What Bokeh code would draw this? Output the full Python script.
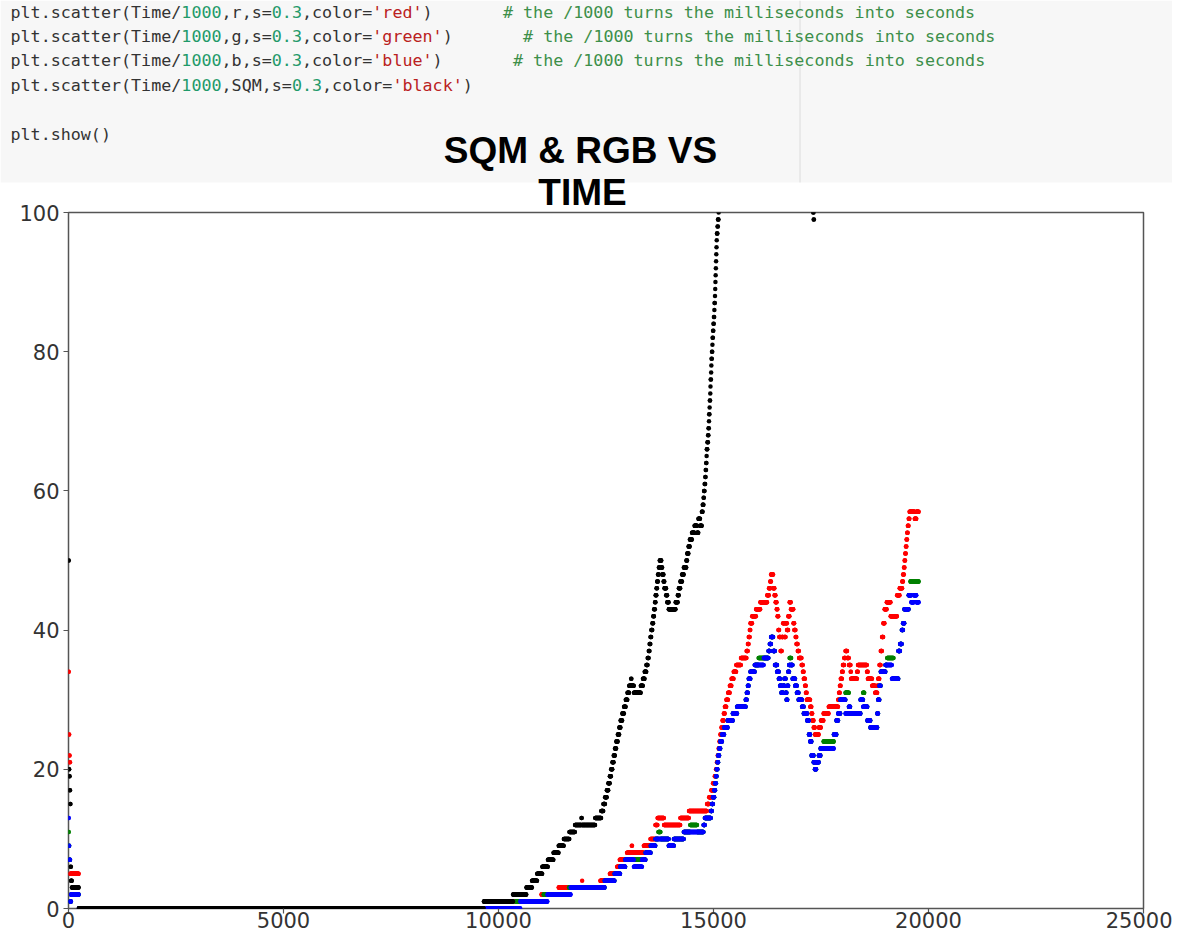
import re
import numpy as np
from bokeh.plotting import figure
from bokeh.models import Range1d, FixedTicker, ColumnDataSource
from bokeh.core.properties import value, field
from bokeh.embed import file_html
from bokeh.resources import INLINE

nan = float("nan")

# ---------------- text content ----------------
CODE_LINES = [
    "plt.scatter(Time/1000,r,s=0.3,color='red')" + " " * 7 + "# the /1000 turns the milliseconds into seconds",
    "plt.scatter(Time/1000,g,s=0.3,color='green')" + " " * 7 + "# the /1000 turns the milliseconds into seconds",
    "plt.scatter(Time/1000,b,s=0.3,color='blue')" + " " * 7 + "# the /1000 turns the milliseconds into seconds",
    "plt.scatter(Time/1000,SQM,s=0.3,color='black')",
    "",
    "plt.show()",
]
TITLE_1 = "SQM & RGB VS"
TITLE_2 = "TIME"

X_TICKS = [0, 5000, 10000, 15000, 20000, 25000]
Y_TICKS = [0, 20, 40, 60, 80, 100]

# ---------------- data: (start time, level) steps ----------------
SAMPLE_STEP = 5
T_END = 19770

SQM_STEPS = [
    (0, 50), (10, 20), (20, 19), (30, 17), (40, 15), (50, 6), (60, 4), (80, 3), (240, 0),
    (9660, 1), (10340, 2), (10650, 3), (10780, 4), (10900, 5), (11020, 6), (11150, 7), (11280, 8),
    (11400, 9), (11520, 10), (11650, 11), (11780, 12), (11930, 13), (11940, 12), (12250, 13),
    (12390, 14), (12440, 15), (12480, 16), (12520, 17), (12555, 18), (12590, 19), (12620, 20),
    (12650, 21), (12680, 22), (12710, 23), (12740, 24), (12775, 25), (12810, 26), (12840, 27),
    (12880, 28), (12920, 29), (12960, 30), (13000, 31), (13040, 32), (13085, 33), (13095, 32),
    (13150, 31), (13310, 32), (13360, 33), (13400, 34), (13440, 35), (13470, 36), (13495, 37),
    (13515, 38), (13535, 39), (13555, 40), (13580, 41), (13600, 42), (13620, 43), (13640, 44),
    (13655, 45), (13675, 46), (13690, 47), (13710, 48), (13730, 49), (13750, 50), (13790, 49),
    (13810, 48), (13840, 47), (13860, 46), (13900, 45), (13925, 44), (13960, 43), (14120, 44),
    (14170, 45), (14195, 46), (14230, 47), (14270, 48), (14310, 49), (14370, 50), (14390, 51),
    (14420, 52), (14450, 53), (14500, 54), (14560, 55), (14620, 54), (14650, 56), (14690, 55),
    (14730, 57), (14748, 58), (14767, 59), (14780, 60), (14793, 61), (14806, 62), (14816, 63),
    (14826, 64), (14836, 65), (14845, 66), (14858, 67), (14871, 68), (14884, 69), (14892, 70),
    (14900, 71), (14907, 72), (14915, 73), (14922, 74), (14928, 75), (14935, 76), (14941, 77),
    (14948, 78), (14954, 79), (14961, 80), (14971, 81), (14980, 82), (14990, 83), (15000, 84),
    (15008, 85), (15016, 86), (15023, 87), (15031, 88), (15039, 89), (15044, 90), (15049, 91),
    (15054, 92), (15059, 93), (15064, 94), (15068, 95), (15073, 96), (15078, 97), (15091, 98),
    (15103, 99), (15116, 100), (15125, nan), (17320, 100), (17330, 99), (17340, nan),
]

RED_STEPS = [
    (0, 34), (10, 25), (20, 22), (30, 21), (40, 5), (240, 0),
    (10400, 1), (11000, 2), (11400, 3), (11945, 4), (11950, 3), (12370, 4), (12590, 5), (12760, 6),
    (12820, 7), (12990, 8), (13100, 9), (13110, 8), (13380, 9), (13535, 10), (13650, 12), (13700, 13),
    (13850, 12), (14230, 13), (14430, 14), (14850, 15), (14900, 16), (14950, 17), (14990, 18),
    (15030, 19), (15060, 20), (15080, 21), (15100, 22), (15120, 23), (15140, 24), (15160, 25),
    (15185, 26), (15210, 27), (15240, 28), (15265, 29), (15300, 30), (15340, 31), (15380, 32),
    (15420, 33), (15470, 34), (15530, 35), (15640, 36), (15770, 37), (15800, 38), (15820, 39),
    (15845, 40), (15860, 41), (15900, 42), (15990, 43), (16090, 44), (16250, 45), (16290, 46),
    (16320, 47), (16340, 48), (16390, 46), (16420, 45), (16445, 44), (16470, 43), (16490, 42),
    (16510, 40), (16530, 39), (16560, 37), (16590, 39), (16620, 41), (16650, 39), (16680, 41),
    (16710, 40), (16740, 42), (16770, 44), (16800, 43), (16860, 41), (16880, 40), (16910, 39),
    (16930, 38), (16960, 37), (16990, 36), (17050, 35), (17080, 34), (17100, 33), (17130, 32),
    (17150, 31), (17170, 30), (17250, 29), (17280, 28), (17300, 27), (17330, 26), (17360, 25),
    (17450, 26), (17500, 27), (17560, 28), (17680, 29), (17900, 30), (17920, 31), (17940, 32),
    (17960, 33), (17990, 34), (18010, 35), (18040, 36), (18070, 37), (18110, 36), (18150, 35),
    (18186, 34), (18200, 33), (18340, 34), (18360, 35), (18570, 34), (18590, 33), (18690, 32),
    (18760, 31), (18810, 32), (18830, 33), (18860, 35), (18890, 37), (18920, 39), (18950, 41),
    (18980, 43), (19030, 44), (19120, 42), (19270, 45), (19330, 46), (19390, 47), (19410, 48),
    (19430, 49), (19445, 50), (19460, 51), (19475, 52), (19490, 53), (19505, 54), (19520, 55),
    (19540, 56), (19560, 57), (19680, 56), (19720, 57),
]

BLUE_STEPS = [
    (0, 13), (10, 9), (20, 7), (40, 1), (60, 2), (240, 0),
    (10510, 1), (11140, 2), (11680, 3), (12470, 4), (12700, 5), (12830, 6), (12950, 7), (13150, 6),
    (13340, 7), (13420, 8), (13540, 9), (13650, 10), (13960, 9), (14080, 10), (14310, 11),
    (14770, 12), (14800, 13), (14940, 14), (14965, 15), (14990, 16), (15020, 17), (15040, 18),
    (15060, 19), (15075, 20), (15095, 21), (15110, 22), (15135, 23), (15160, 24), (15200, 25),
    (15250, 26), (15330, 27), (15450, 28), (15550, 29), (15750, 30), (15775, 31), (15800, 32),
    (15820, 33), (15860, 34), (15960, 35), (16170, 36), (16280, 37), (16310, 38), (16340, 39),
    (16390, 37), (16430, 35), (16480, 34), (16520, 33), (16550, 32), (16580, 31), (16620, 32),
    (16650, 33), (16680, 31), (16700, 30), (16720, 32), (16740, 34), (16760, 35), (16840, 33),
    (16900, 32), (16940, 31), (16980, 30), (17060, 29), (17100, 28), (17180, 27), (17220, 25),
    (17250, 24), (17280, 22), (17330, 21), (17360, 20), (17390, 21), (17450, 22), (17490, 23),
    (17800, 25), (17860, 27), (17900, 28), (17950, 30), (18070, 28), (18150, 29), (18180, 28),
    (18420, 30), (18480, 29), (18580, 27), (18650, 26), (18810, 28), (18830, 30), (18860, 32),
    (18890, 34), (19000, 35), (19150, 33), (19300, 37), (19340, 38), (19380, 40), (19410, 41),
    (19440, 43), (19540, 45), (19600, 44), (19660, 45), (19720, 44),
]

GREEN_STEPS = [
    (0, 11), (10, 9), (20, 7), (40, 1), (60, 2), (240, 0),
    (10400, 1), (11050, 2), (11640, 3), (12470, 4), (12700, 5), (12830, 6), (12950, 7), (13420, 8),
    (13540, 9), (13650, 10), (13720, 11), (13770, 10), (13960, 9), (14080, 10), (14310, 11),
    (14460, 12), (14620, 11), (14770, 12), (14800, 13), (14940, 14), (14965, 15), (14990, 16),
    (15020, 17), (15040, 18), (15060, 19), (15075, 20), (15095, 21), (15110, 22), (15135, 23),
    (15160, 24), (15200, 25), (15250, 26), (15330, 27), (15450, 28), (15550, 29), (15750, 30),
    (15775, 31), (15800, 32), (15820, 33), (15860, 34), (15960, 35), (16050, 36), (16280, 37),
    (16310, 38), (16340, 39), (16390, 37), (16430, 35), (16480, 34), (16520, 33), (16550, 32),
    (16580, 31), (16620, 32), (16650, 33), (16680, 31), (16700, 30), (16720, 32), (16740, 34),
    (16760, 35), (16770, 36), (16810, 35), (16840, 33), (16900, 32), (16940, 31), (16980, 30),
    (17060, 29), (17100, 28), (17180, 27), (17220, 25), (17250, 24), (17280, 22), (17330, 21),
    (17360, 20), (17390, 21), (17450, 22), (17490, 23), (17560, 24), (17800, 25), (17860, 27),
    (17900, 28), (17950, 30), (18070, 31), (18150, 29), (18180, 28), (18420, 30), (18480, 31),
    (18510, 29), (18580, 27), (18650, 26), (18810, 28), (18830, 30), (18860, 32), (18890, 34),
    (19000, 35), (19040, 36), (19190, 33), (19300, 37), (19340, 38), (19380, 40), (19410, 41),
    (19440, 43), (19540, 45), (19580, 47),
]


def expand(steps, t_end, step):
    ts = np.array([s[0] for s in steps], dtype=float)
    vs = np.array([s[1] for s in steps], dtype=float)
    t = np.arange(0, t_end + 1e-9, step, dtype=float)
    idx = np.searchsorted(ts, t, side="right") - 1
    v = vs[idx]
    keep = ~np.isnan(v)
    return t[keep], v[keep]


# ---------------- layout (pixels) ----------------
W = 1172
TOTAL_H = 934
HEAD_H = 214          # header canvas: code cell + both title lines
MAIN_TOP = 182        # main canvas starts here (overlaps the header's white strip, transparent border)
MAIN_H = TOTAL_H - MAIN_TOP
FRAME_L, FRAME_R, FRAME_T, FRAME_B = 68, 1143, 212, 908

# ---------------- header (code cell + title) ----------------
GREY_BOTTOM = 182
RULER_X = 799.5
CHAR_W = 10.05
CODE_X0 = 10
LINE_Y0 = 11
LINE_DY = 24.4
COL_DEFAULT = "#333333"
COL_NUMBER = "#1f9a6a"
COL_STRING = "#ba2121"
COL_COMMENT = "#3d8f4a"

head = figure(width=W, height=HEAD_H, x_range=Range1d(0, W), y_range=Range1d(HEAD_H, 0),
              output_backend="svg", toolbar_location=None, min_border=0,
              x_axis_location=None, y_axis_location=None,
              background_fill_color="white", border_fill_color="white",
              outline_line_color=None)
head.grid.visible = False
head.styles = {"margin-bottom": f"-{HEAD_H - MAIN_TOP}px"}

head.quad(left=[0], right=[W], top=[0], bottom=[GREY_BOTTOM], fill_color="#f7f7f7", line_color=None)
head.segment(x0=[RULER_X], y0=[0], x1=[RULER_X], y1=[GREY_BOTTOM], line_color="#dcdcdc", line_width=1)

tok = re.compile(r"(#.*$)|('[^']*')|(\b\d+(?:\.\d+)?\b)")
seg_x, seg_y, seg_t, seg_c = [], [], [], []


def add_seg(col, li, text, color):
    if text.strip() == "":
        return
    seg_x.append(CODE_X0 + col * CHAR_W)
    seg_y.append(LINE_Y0 + li * LINE_DY)
    seg_t.append(text)
    seg_c.append(color)


for li, line in enumerate(CODE_LINES):
    pos = 0
    for m in tok.finditer(line):
        if m.start() > pos:
            add_seg(pos, li, line[pos:m.start()], COL_DEFAULT)
        c = COL_COMMENT if m.group(1) else (COL_STRING if m.group(2) else COL_NUMBER)
        add_seg(m.start(), li, m.group(0), c)
        pos = m.end()
    if pos < len(line):
        add_seg(pos, li, line[pos:], COL_DEFAULT)

src = ColumnDataSource(dict(x=seg_x, y=seg_y, t=seg_t, c=seg_c))
head.text(x="x", y="y", text="t", source=src, text_color=field("c"),
          text_font=value("DejaVu Sans Mono"), text_font_size="16.7px",
          text_baseline="middle", text_align="left")

head.text(x=[580, 582], y=[150, 192], text=[TITLE_1, TITLE_2], text_color="black",
          text_font=value("Liberation Sans"), text_font_style="bold",
          text_font_size="37px", text_align="center", text_baseline="middle")

# ---------------- main chart ----------------
p = figure(width=W, height=MAIN_H, x_range=Range1d(0, 25000), y_range=Range1d(0, 100),
           output_backend="svg", toolbar_location=None,
           min_border_left=FRAME_L, min_border_right=W - FRAME_R,
           min_border_top=FRAME_T - MAIN_TOP, min_border_bottom=TOTAL_H - FRAME_B,
           background_fill_color="white", border_fill_color=None,
           outline_line_color="#555555", outline_line_width=1.5)
p.grid.visible = False
p.xaxis.ticker = FixedTicker(ticks=X_TICKS)
p.yaxis.ticker = FixedTicker(ticks=Y_TICKS)
p.axis.axis_line_color = None
p.axis.major_tick_line_color = "#555555"
p.axis.major_tick_line_width = 1.2
p.axis.major_tick_out = 5
p.axis.major_tick_in = 0
p.axis.minor_tick_line_color = None
p.axis.major_label_text_font = "DejaVu Sans"
p.axis.major_label_text_font_size = "21px"
p.axis.major_label_text_color = "#333333"
p.xaxis.major_label_standoff = -2
p.yaxis.major_label_standoff = 4

for steps, col in [(RED_STEPS, "red"), (GREEN_STEPS, "green"), (BLUE_STEPS, "blue"), (SQM_STEPS, "black")]:
    tx, vy = expand(steps, T_END, SAMPLE_STEP)
    p.scatter(x=tx, y=vy, size=4.5, marker="circle", fill_color=col, line_color=None)

# two independent roots, the chart pulled up under the header's white strip
open("out.html", "w").write(file_html([head, p], INLINE))
